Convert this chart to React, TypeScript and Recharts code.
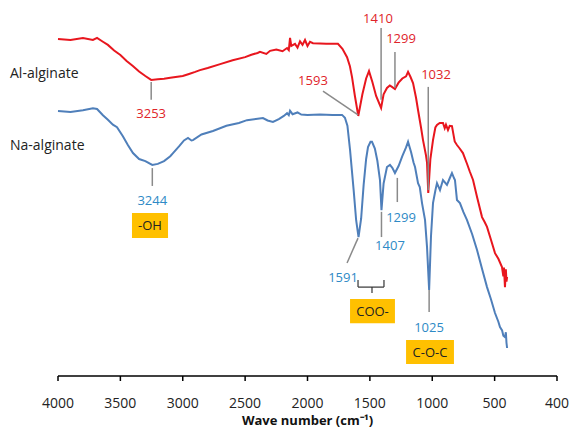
import React from "react";
import { LineChart, Line, XAxis, YAxis, ReferenceLine, ReferenceDot, ReferenceArea } from "recharts";

// Al-alginate (red) spectrum, wave number vs. relative transmittance
const alWave = [
  4000, 3900, 3800, 3720, 3687, 3640, 3600, 3550, 3500, 3450, 3400, 3350, 3300, 3253, 3200, 3150, 3100, 3000,
  2950, 2900, 2862, 2800, 2700, 2600, 2500, 2450, 2400, 2381, 2330, 2300, 2250, 2200, 2164, 2150, 2140, 2130,
  2100, 2080, 2060, 2040, 2020, 2000, 1980, 1956, 1900, 1850, 1800, 1756, 1720, 1683, 1660, 1643, 1620, 1593,
  1560, 1530, 1507, 1480, 1450, 1410, 1390, 1363, 1340, 1323, 1299, 1270, 1240, 1210, 1194, 1175, 1154, 1130,
  1114, 1090, 1074, 1050, 1042, 1032, 1015, 994, 975, 962, 940, 914, 900, 890, 874, 860, 842, 820, 802, 780,
  754, 720, 700, 673, 640, 601, 580, 561, 530, 497, 470, 441, 430, 425, 417, 410, 405, 400,
];
const alValues = [
  96.3, 96.0, 96.6, 96.0, 96.6, 95.5, 94.6, 93.0, 91.7, 90.0, 88.6, 87.0, 85.7, 84.6, 84.8, 84.9, 85.2, 85.7,
  86.3, 86.9, 87.4, 88.0, 89.1, 90.2, 91.1, 91.8, 92.3, 92.6, 92.0, 92.9, 93.3, 92.8, 93.7, 93.1, 96.6, 94.3,
  94.9, 93.8, 95.6, 94.6, 96.0, 94.3, 95.5, 95.1, 95.0, 94.9, 94.9, 94.9, 93.5, 91.1, 88.5, 85.4, 80.0, 74.3,
  80.5, 85.0, 87.1, 84.0, 80.0, 76.6, 80.5, 82.3, 83.0, 82.6, 82.0, 83.8, 85.0, 85.6, 86.9, 85.5, 83.7, 79.5,
  76.0, 71.0, 67.4, 63.0, 61.0, 52.3, 62.0, 67.4, 71.0, 71.7, 72.3, 72.3, 70.8, 71.8, 70.3, 71.5, 71.4, 67.0,
  66.0, 65.0, 63.7, 60.5, 58.5, 56.0, 51.0, 45.4, 44.0, 42.6, 39.0, 35.1, 33.5, 31.1, 28.5, 31.0, 25.4, 30.5,
  27.0, 28.3,
];

// Na-alginate (blue) spectrum
const naWave = [
  4000, 3900, 3800, 3720, 3687, 3640, 3600, 3560, 3527, 3480, 3440, 3399, 3350, 3300, 3244, 3200, 3150, 3100,
  3078, 3030, 2990, 2958, 2930, 2918, 2850, 2758, 2650, 2550, 2485, 2400, 2357, 2320, 2277, 2230, 2190, 2164,
  2150, 2140, 2120, 2080, 2050, 2000, 1900, 1800, 1723, 1700, 1680, 1659, 1630, 1610, 1591, 1570, 1550, 1530,
  1515, 1495, 1483, 1460, 1440, 1419, 1407, 1390, 1363, 1339, 1320, 1299, 1270, 1240, 1210, 1194, 1170, 1150,
  1138, 1114, 1100, 1082, 1058, 1042, 1025, 1010, 994, 975, 962, 938, 914, 882, 860, 842, 825, 818, 802, 778,
  750, 722, 680, 641, 600, 561, 530, 497, 470, 457, 440, 430, 417, 410, 405, 400,
];
const naValues = [
  75.7, 75.4, 75.9, 76.5, 76.3, 74.5, 73.2, 71.8, 71.1, 68.5, 66.0, 63.7, 62.0, 61.4, 60.3, 60.6, 61.4, 62.8,
  63.7, 65.6, 67.3, 68.0, 67.3, 67.4, 69.0, 70.0, 71.5, 72.3, 73.1, 73.5, 73.7, 73.0, 72.6, 73.4, 74.3, 75.1,
  74.5, 75.8, 74.8, 75.3, 74.7, 74.6, 74.7, 74.6, 74.6, 73.8, 71.5, 64.6, 53.1, 44.5, 39.7, 45.0, 54.6, 62.0,
  65.4, 66.9, 66.9, 65.0, 61.5, 56.0, 47.4, 55.0, 59.7, 60.3, 59.5, 58.0, 60.0, 62.8, 65.3, 66.9, 64.0, 61.0,
  59.7, 55.1, 54.0, 49.4, 44.6, 36.9, 24.6, 40.0, 49.4, 53.0, 55.1, 53.1, 56.0, 54.6, 56.5, 58.0, 56.5, 56.0,
  50.3, 49.4, 46.8, 44.6, 40.5, 36.0, 30.5, 25.4, 22.0, 18.0, 15.5, 14.0, 13.0, 11.5, 11.1, 12.5, 9.5, 8.0,
];

// x ticks (0 stands in for the last "400" label, as on the original axis)
const xTicks = [4000, 3500, 3000, 2500, 2000, 1500, 1000, 500, 0];

const alData = alWave.map((x, i) => ({ x, y: alValues[i] }));
const naData = naWave.map((x, i) => ({ x, y: naValues[i] }));

const RED = "#E8161E";
const BLUE = "#4F7FBA";
const RED_TXT = "#E0242A";
const BLUE_TXT = "#2E8AC6";
const GREY = "#8A8A8A";
const GOLD = "#FFC000";

// peak labels: text, text anchor point, leader line
const peakLabels = [
  { text: "3253", color: RED_TXT, tx: 3253, ty: 74.9, line: [[3253, 84], [3253, 78.9]] },
  { text: "3244", color: BLUE_TXT, tx: 3244, ty: 50.3, line: [[3244, 59.4], [3244, 54.3]] },
  { text: "1410", color: RED_TXT, tx: 1435, ty: 102.3, line: [[1410, 99.4], [1410, 78.9]] },
  { text: "1299", color: RED_TXT, tx: 1250, ty: 96.6, line: [[1299, 92.6], [1299, 82.3]] },
  { text: "1593", color: RED_TXT, tx: 1956, ty: 84.6, line: [[1876, 81.4], [1595, 74.6]] },
  { text: "1032", color: RED_TXT, tx: 970, ty: 86.3, line: [[1032, 82.6], [1032, 53.1]] },
  { text: "1299", color: BLUE_TXT, tx: 1250, ty: 45.4, line: [[1280, 56.6], [1280, 49.7]] },
  { text: "1407", color: BLUE_TXT, tx: 1339, ty: 37.4, line: [[1407, 46.9], [1407, 39.7]] },
  { text: "1591", color: BLUE_TXT, tx: 1715, ty: 28.3, line: [[1683, 32.3], [1595, 39.4]] },
  { text: "1025", color: BLUE_TXT, tx: 1026, ty: 14, line: [[1025, 24.6], [1025, 18.3]] },
];

const groupBoxes = [
  { text: "-OH", x1: 3407, x2: 3118, y1: 39.4, y2: 46.6 },
  { text: "COO-", x1: 1659, x2: 1299, y1: 15.1, y2: 22 },
  { text: "C-O-C", x1: 1210, x2: 826, y1: 3.4, y2: 10.3 },
];

const bracket = [
  [[1595, 25.4], [1387, 25.4]],
  [[1595, 25.4], [1595, 27.4]],
  [[1387, 25.4], [1387, 27.4]],
  [[1483, 25.4], [1483, 23.7]],
];

const FONT = "'Open Sans', sans-serif";

export default function App() {
  return (
    <div style={{ position: "absolute", left: 0, top: 0, width: 571, height: 428, background: "#fff", fontFamily: FONT }}>
      <LineChart
        width={571}
        height={428}
        margin={{ top: 26, right: 14, bottom: 12, left: 58 }}
        style={{ fontFamily: FONT }}
      >
        <XAxis
          type="number"
          dataKey="x"
          domain={[0, 4000]}
          reversed
          ticks={xTicks}
          interval={0}
          tickFormatter={(v: number) => (v === 0 ? "400" : String(v))}
          height={40}
          tickSize={5}
          tickMargin={17}
          stroke="#000"
          strokeWidth={1.5}
          tick={{ fill: "#222", fontSize: 14 }}
          label={{ value: "Wave number (cm⁻¹)", position: "insideBottom", offset: -9, fill: "#111", fontSize: 13, fontWeight: 700 }}
        />
        <YAxis type="number" domain={[0, 100]} hide />

        <Line data={alData} dataKey="y" stroke={RED} strokeWidth={2} dot={false} isAnimationActive={false} />
        <Line data={naData} dataKey="y" stroke={BLUE} strokeWidth={2} dot={false} isAnimationActive={false} />

        {peakLabels.map((p, i) => (
          <ReferenceLine
            key={"l" + i}
            segment={[{ x: p.line[0][0], y: p.line[0][1] }, { x: p.line[1][0], y: p.line[1][1] }]}
            stroke={GREY}
            strokeWidth={1.5}
            ifOverflow="visible"
          />
        ))}
        {bracket.map((s, i) => (
          <ReferenceLine
            key={"b" + i}
            segment={[{ x: s[0][0], y: s[0][1] }, { x: s[1][0], y: s[1][1] }]}
            stroke="#333"
            strokeWidth={1.2}
            ifOverflow="visible"
          />
        ))}
        {peakLabels.map((p, i) => (
          <ReferenceDot
            key={"t" + i}
            x={p.tx}
            y={p.ty}
            r={0}
            fill="none"
            stroke="none"
            ifOverflow="visible"
            label={{ value: p.text, position: "center", fill: p.color, fontSize: 13 }}
          />
        ))}
        {groupBoxes.map((b, i) => (
          <ReferenceArea
            key={"g" + i}
            x1={b.x1}
            x2={b.x2}
            y1={b.y1}
            y2={b.y2}
            fill={GOLD}
            fillOpacity={1}
            stroke="none"
            ifOverflow="visible"
            label={{ value: b.text, position: "center", fill: "#222", fontSize: 13 }}
          />
        ))}
      </LineChart>
      <div style={{ position: "absolute", left: 10, top: 63, fontSize: 14, color: "#222" }}>Al-alginate</div>
      <div style={{ position: "absolute", left: 10, top: 135, fontSize: 14, color: "#222" }}>Na-alginate</div>
    </div>
  );
}
